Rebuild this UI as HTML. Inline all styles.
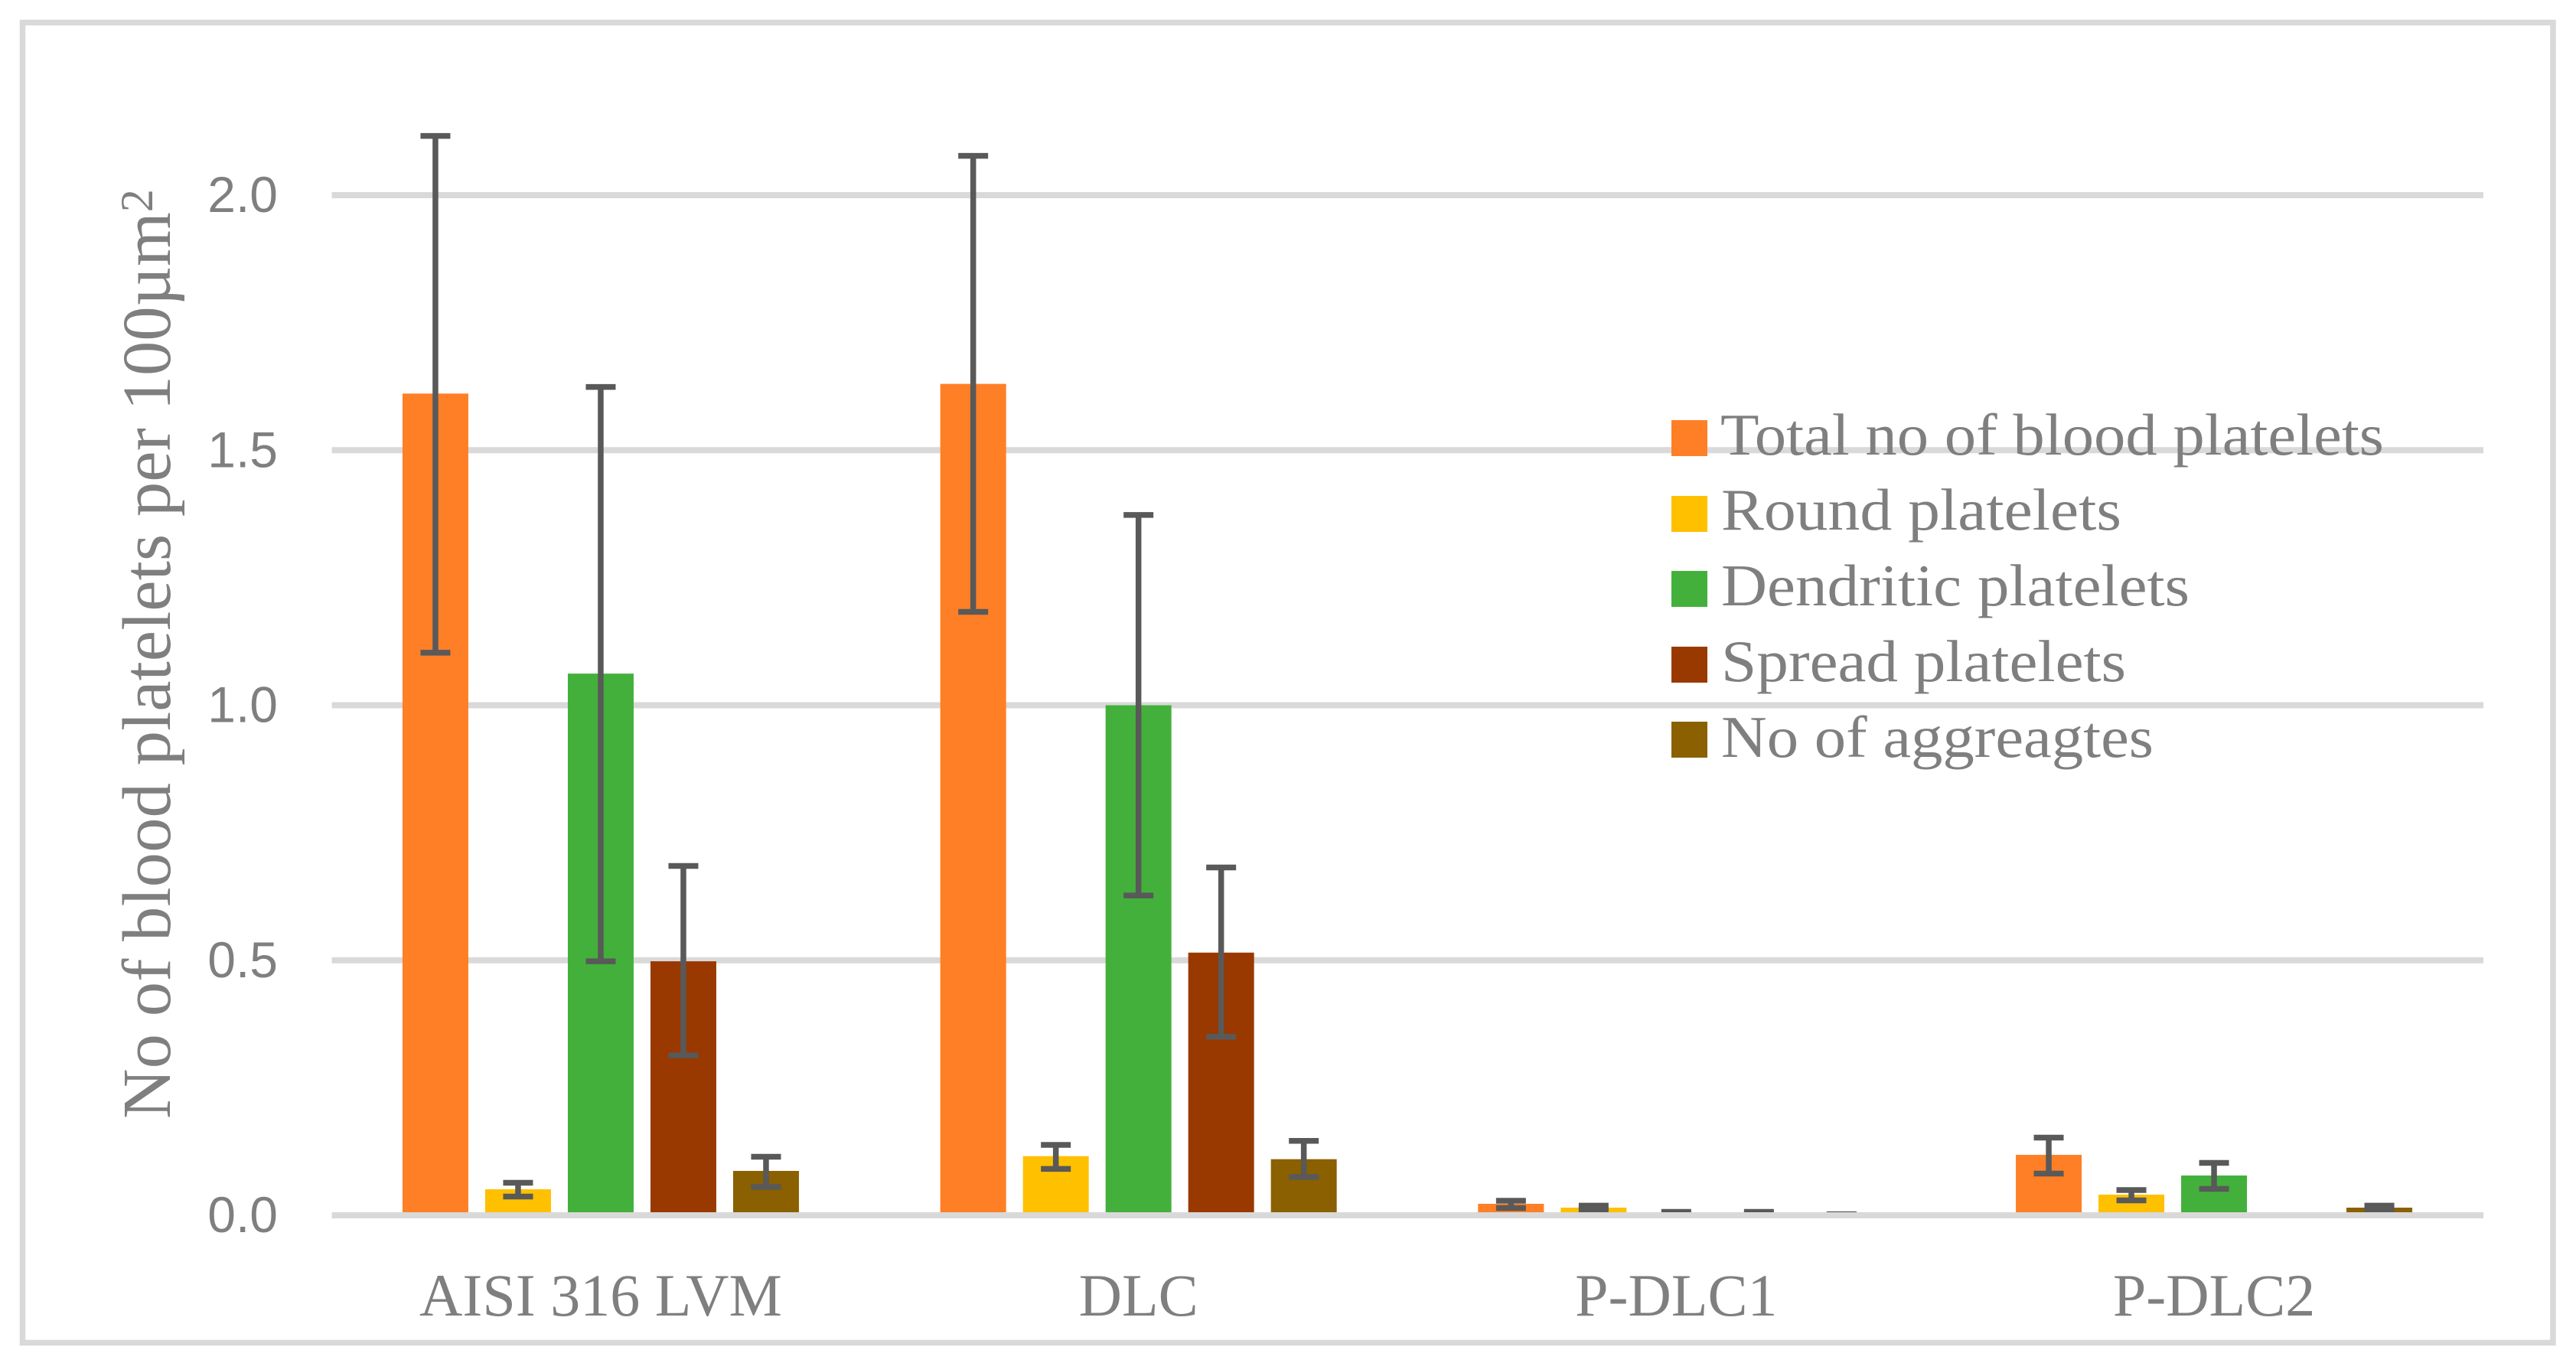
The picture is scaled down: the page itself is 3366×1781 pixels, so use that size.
<!DOCTYPE html>
<html>
<head>
<meta charset="utf-8">
<title>Blood platelets per 100 µm²</title>
<style>
  html, body { margin: 0; padding: 0; background: #fff; }
  svg { display: block; }
  .serif { font-family: "Liberation Serif", serif; fill: #7f7f7f; }
  .sans { font-family: "Liberation Sans", sans-serif; fill: #7f7f7f; }
</style>
</head>
<body>
<svg id="chart" xmlns="http://www.w3.org/2000/svg" width="3366" height="1781" viewBox="0 0 3366 1781">
  <rect x="0" y="0" width="3366" height="1781" fill="#ffffff"/>
  <rect x="29.5" y="29.5" width="3306.5" height="1725" fill="none" stroke="#d9d9d9" stroke-width="7.5"/>
  <g id="grid"></g>
  <g id="yticks"></g>
  <g id="bars"></g>
  <g id="errors"></g>
  <g id="axis"></g>
  <g id="xlabels"></g>
  <text class="serif" x="222" y="1462" font-size="90" textLength="1215" lengthAdjust="spacingAndGlyphs" transform="rotate(-90 222 1462)">No of blood platelets per 100µm<tspan font-size="60" dy="-23">2</tspan></text>
  <g>
    <g>
      <rect x="2184" y="549" width="47" height="47" fill="#ff7f27"/>
      <text class="serif" x="2248" y="594" font-size="77" textLength="867" lengthAdjust="spacingAndGlyphs">Total no of blood platelets</text>
    </g>
    <g>
      <rect x="2184" y="648" width="47" height="47" fill="#ffc000"/>
      <text class="serif" x="2249" y="692" font-size="77" textLength="523" lengthAdjust="spacingAndGlyphs">Round platelets</text>
    </g>
    <g>
      <rect x="2184" y="746" width="47" height="47" fill="#43b03c"/>
      <text class="serif" x="2249" y="791" font-size="77" textLength="612" lengthAdjust="spacingAndGlyphs">Dendritic platelets</text>
    </g>
    <g>
      <rect x="2184" y="845" width="47" height="47" fill="#993900"/>
      <text class="serif" x="2249" y="890" font-size="77" textLength="529" lengthAdjust="spacingAndGlyphs">Spread platelets</text>
    </g>
    <g>
      <rect x="2184" y="943" width="47" height="47" fill="#8a6000"/>
      <text class="serif" x="2249" y="989" font-size="77" textLength="565" lengthAdjust="spacingAndGlyphs">No of aggreagtes</text>
    </g>
  </g>
</svg>
<script>
const categories = ["AISI 316 LVM", "DLC", "P-DLC1", "P-DLC2"];
const seriesNames = ["total", "round", "dendritic", "spread", "aggregates"];
const tickValues = [0, 0.5, 1.0, 1.5, 2.0];
const tickLabels = ["0.0", "0.5", "1.0", "1.5", "2.0"];

const totalValues = [1.611, 1.630, 0.0225, 0.1185];
const roundValues = [0.051, 0.116, 0.015, 0.0405];
const dendriticValues = [1.062, 1.000, 0.004, 0.078];
const spreadValues = [0.498, 0.515, 0.004, 0];
const aggregateValues = [0.087, 0.110, 0.002, 0.015];

const totalHigh = [2.116, 2.077, 0.0285, 0.1523];
const totalLow = [1.103, 1.183, 0.0143, 0.0818];
const roundHigh = [0.0638, 0.138, 0.019, 0.0495];
const roundLow = [0.0368, 0.091, 0.011, 0.0293];
const dendriticHigh = [1.624, 1.373, 0.0068, 0.1028];
const dendriticLow = [0.498, 0.627, 0.002, 0.0518];
const spreadHigh = [0.685, 0.682, 0.0068, 0];
const spreadLow = [0.3136, 0.350, 0.002, 0];
const aggregateHigh = [0.1148, 0.146, 0.002, 0.019];
const aggregateLow = [0.0555, 0.075, 0.001, 0.011];

const seriesValues = [totalValues, roundValues, dendriticValues, spreadValues, aggregateValues];
const seriesHigh = [totalHigh, roundHigh, dendriticHigh, spreadHigh, aggregateHigh];
const seriesLow = [totalLow, roundLow, dendriticLow, spreadLow, aggregateLow];
const seriesColors = ["#ff7f27", "#ffc000", "#43b03c", "#993900", "#8a6000"];

const SVG_NS = "http://www.w3.org/2000/svg";
const plotLeft = 433.6;
const plotRight = 3245;
const bandWidth = 702.7;
const seriesPitch = 108;
const barWidth = 86;
const yZero = 1588;
const yPerUnit = 666.5;

function yScale(v) { return yZero - v * yPerUnit; }
function xCenter(catIndex) { return plotLeft + bandWidth * (catIndex + 0.5); }
function xSeries(catIndex, seriesIndex) {
  return xCenter(catIndex) + (seriesIndex - (seriesValues.length - 1) / 2) * seriesPitch;
}
function make(tag, attrs) {
  const el = document.createElementNS(SVG_NS, tag);
  for (const k in attrs) el.setAttribute(k, attrs[k]);
  return el;
}

const gridGroup = document.getElementById("grid");
const tickGroup = document.getElementById("yticks");
const barGroup = document.getElementById("bars");
const errorGroup = document.getElementById("errors");
const axisGroup = document.getElementById("axis");
const xLabelGroup = document.getElementById("xlabels");

tickValues.forEach(function (v, i) {
  const yPos = yScale(v);
  const lineParent = v === 0 ? axisGroup : gridGroup;
  const line = make("line", { x1: plotLeft, x2: plotRight, y1: yPos, y2: yPos, stroke: "#d9d9d9", "stroke-width": 8 });
  
  
  lineParent.appendChild(line);

  const label = make("text", { x: 363, y: yPos + 22, "text-anchor": "end", "font-size": 66, class: "sans" });
  
  
  label.textContent = tickLabels[i];
  tickGroup.appendChild(label);
});

categories.forEach(function (cat, c) {
  const label = make("text", { x: xCenter(c), y: 1719, "text-anchor": "middle", "font-size": 78, class: "serif" });
  
  
  label.textContent = cat;
  xLabelGroup.appendChild(label);

  seriesValues.forEach(function (values, s) {
    const cx = xSeries(c, s);
    if (values[c] > 0) {
      const top = yScale(values[c]);
      const bar = make("rect", { x: cx - barWidth / 2, y: top, width: barWidth, height: yZero - top, fill: seriesColors[s] });
      
      
      barGroup.appendChild(bar);
    }
    const hi = seriesHigh[s][c];
    const lo = seriesLow[s][c];
    if (hi > 0) {
      const yHi = yScale(hi);
      const yLo = yScale(lo);
      const errorBar = make("g", { stroke: "#595959", "stroke-width": 7.5, fill: "none" });
      
      
      errorBar.appendChild(make("line", { x1: cx, x2: cx, y1: yHi, y2: yLo }));
      errorBar.appendChild(make("line", { x1: cx - 19.5, x2: cx + 19.5, y1: yHi, y2: yHi }));
      errorBar.appendChild(make("line", { x1: cx - 19.5, x2: cx + 19.5, y1: yLo, y2: yLo }));
      errorGroup.appendChild(errorBar);
    }
  });
});
</script>
</body>
</html>
